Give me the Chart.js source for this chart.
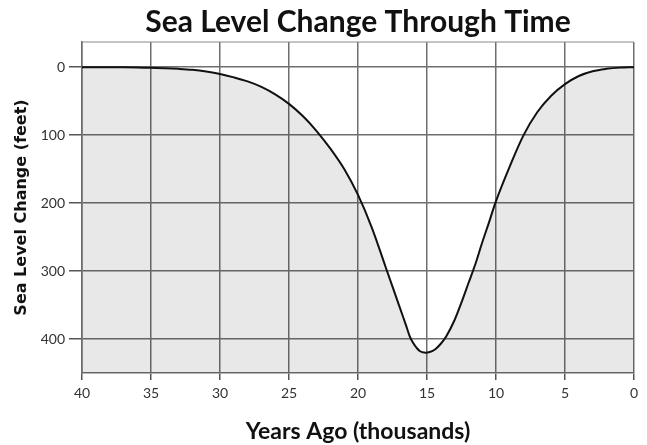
<!DOCTYPE html>
<html>
<head>
<meta charset="utf-8">
<script src="https://cdn.jsdelivr.net/npm/chart.js@4.4.1/dist/chart.umd.min.js"></script>
<style>
  html,body{margin:0;padding:0;background:#fff;}
  #wrap{width:647px;height:445px;}
</style>
</head>
<body>
<div id="wrap"><canvas id="c" width="647" height="445"></canvas></div>
<script>
// Years ago (thousands)
const yearsAgo = [40, 38, 36, 35, 34, 33, 32, 31, 30, 29, 28, 27, 26, 25, 24, 23, 22, 21, 20, 19, 18, 17, 16.5, 16.25, 16, 15.75, 15.5, 15.2, 14.8, 14.4, 14, 13.6, 13, 12.5, 12, 11.5, 11, 10.5, 10, 9, 8, 7, 6, 5, 4, 3, 2, 1, 0];
// Sea level change (feet below present)
const seaLevel = [0, 0, 0.5, 1, 1.5, 2.5, 4, 6.5, 10, 15, 21, 29, 40, 54, 72, 94, 120, 150, 188, 236, 294, 352, 381, 396, 406, 413, 418, 420, 419, 415, 407, 396, 372, 346, 318, 290, 258, 228, 197, 146, 100, 66, 42, 25, 13, 6, 2.5, 0.7, 0];
const xTicks = [0, 5, 10, 15, 20, 25, 30, 35, 40];
const yTicks = [0, 100, 200, 300, 400];
const yMin = -37, yMax = 450;

const frame = {
  id: 'frame',
  afterDatasetsDraw(chart) {
    const {ctx, chartArea: a} = chart;
    ctx.save();
    ctx.strokeStyle = '#8a8a8a';
    ctx.lineWidth = 1.2;
    ctx.beginPath();
    ctx.moveTo(a.left, a.top);
    ctx.lineTo(a.right, a.top);
    ctx.stroke();
    ctx.restore();
  }
};

new Chart(document.getElementById('c'), {
  type: 'line',
  data: {
    datasets: [{
      data: yearsAgo.map((x, i) => ({x: x, y: seaLevel[i]})),
      borderColor: '#111',
      borderWidth: 2,
      backgroundColor: 'rgba(0,0,0,0.09)',
      fill: {value: yMax},
      pointRadius: 0,
      tension: 0.35
    }]
  },
  options: {
    responsive: false,
    animation: false,
    devicePixelRatio: 1,
    layout: {padding: {top: 0, left: 0, right: 13, bottom: 0}},
    plugins: {
      legend: {display: false},
      tooltip: {enabled: false},
      title: {
        display: true,
        fullSize: false,
        text: 'Sea Level Change Through Time',
        color: '#111',
        font: {family: 'Lato', size: 30, weight: 'bold'},
        padding: {top: 4, bottom: 2}
      }
    },
    scales: {
      x: {
        type: 'linear',
        reverse: true,
        min: 0,
        max: 40,
        afterBuildTicks: s => { s.ticks = xTicks.map(v => ({value: v})); },
        afterFit: s => { s.height = 72; },
        grid: {color: '#6e6e6e', lineWidth: 1.5, tickLength: 7, tickColor: '#555', drawOnChartArea: true},
        border: {color: '#6e6e6e', width: 1.5},
        ticks: {color: '#333', font: {family: 'Lato', size: 14}, padding: 5, maxRotation: 0},
        title: {display: true, text: 'Years Ago (thousands)', color: '#111',
                font: {family: 'Lato', size: 23, weight: 'bold'}, padding: {top: 0, bottom: 0}}
      },
      y: {
        type: 'linear',
        reverse: true,
        min: yMin,
        max: yMax,
        afterBuildTicks: s => { s.ticks = yTicks.map(v => ({value: v})); },
        afterFit: s => { s.width = 82; },
        grid: {color: '#6e6e6e', lineWidth: 1.5, tickLength: 13, tickColor: '#555'},
        border: {color: '#6e6e6e', width: 1.5},
        ticks: {color: '#333', font: {family: 'Lato', size: 14}, padding: 4},
        title: {display: true, text: 'Sea Level Change (feet)', color: '#111',
                font: {family: 'DejaVu Sans', size: 16, weight: 'bold'}, padding: {top: 12, bottom: 0}}
      }
    }
  },
  plugins: [frame]
});
</script>
</body>
</html>
